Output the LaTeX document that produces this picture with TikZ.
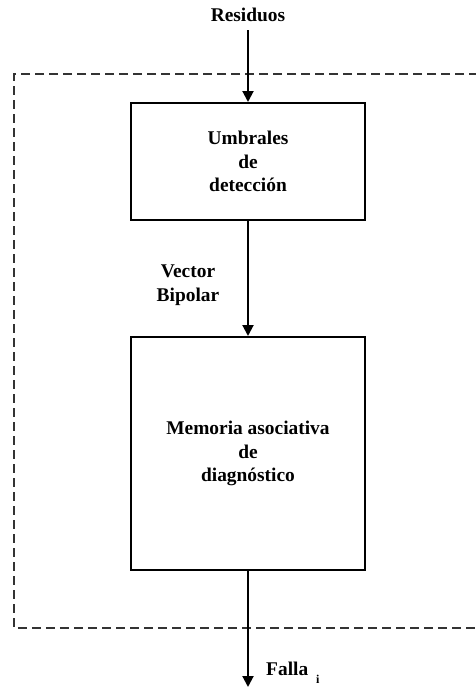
\documentclass[tikz,border=0pt]{standalone}
\usepackage{fontspec}
\setmainfont{Liberation Serif}
\usetikzlibrary{arrows.meta}
\begin{document}
\begin{tikzpicture}[x=1pt,y=-1pt,
  txt/.style={font=\fontsize{19.4}{24}\selectfont\bfseries, align=center, inner sep=0pt},
  blockbox/.style={draw=black, line width=2pt, fill=white, inner sep=0pt, align=center, font=\fontsize{19.4}{23.5}\selectfont\bfseries},
  conn/.style={line width=2pt, -{Triangle[length=11pt,width=11pt]}},
  dashbox/.style={draw=black!80, line width=1.3pt, dash pattern=on 9pt off 5pt}]
\useasboundingbox (0,0) rectangle (476,689);
\node[txt] (res) at (248,15) {Residuos};
\coordinate (resend) at (248,30);
\draw[dashbox] (478,74) -- (14,74) -- (14,628) -- (478,628);
\node[blockbox, minimum width=234pt, minimum height=117pt] (b1) at (248,161.5) {Umbrales\\de\\detección};
\node[blockbox, minimum width=234pt, minimum height=233pt] (b2) at (248,453.5) {Memoria asociativa\\de\\diagnóstico};
\node[txt] (vb) at (188,285) {Vector\\Bipolar};
\coordinate (out) at (248,687);
\node[txt, anchor=west] (falla) at (266,673) {Falla\hspace{8pt}\raisebox{-0.4em}{\fontsize{12}{12}\selectfont\bfseries i}};
\draw[conn] (resend) -- (b1.north);
\draw[conn] (b1.south) -- (b2.north);
\draw[conn] (b2.south) -- (out);
\end{tikzpicture}
\end{document}
